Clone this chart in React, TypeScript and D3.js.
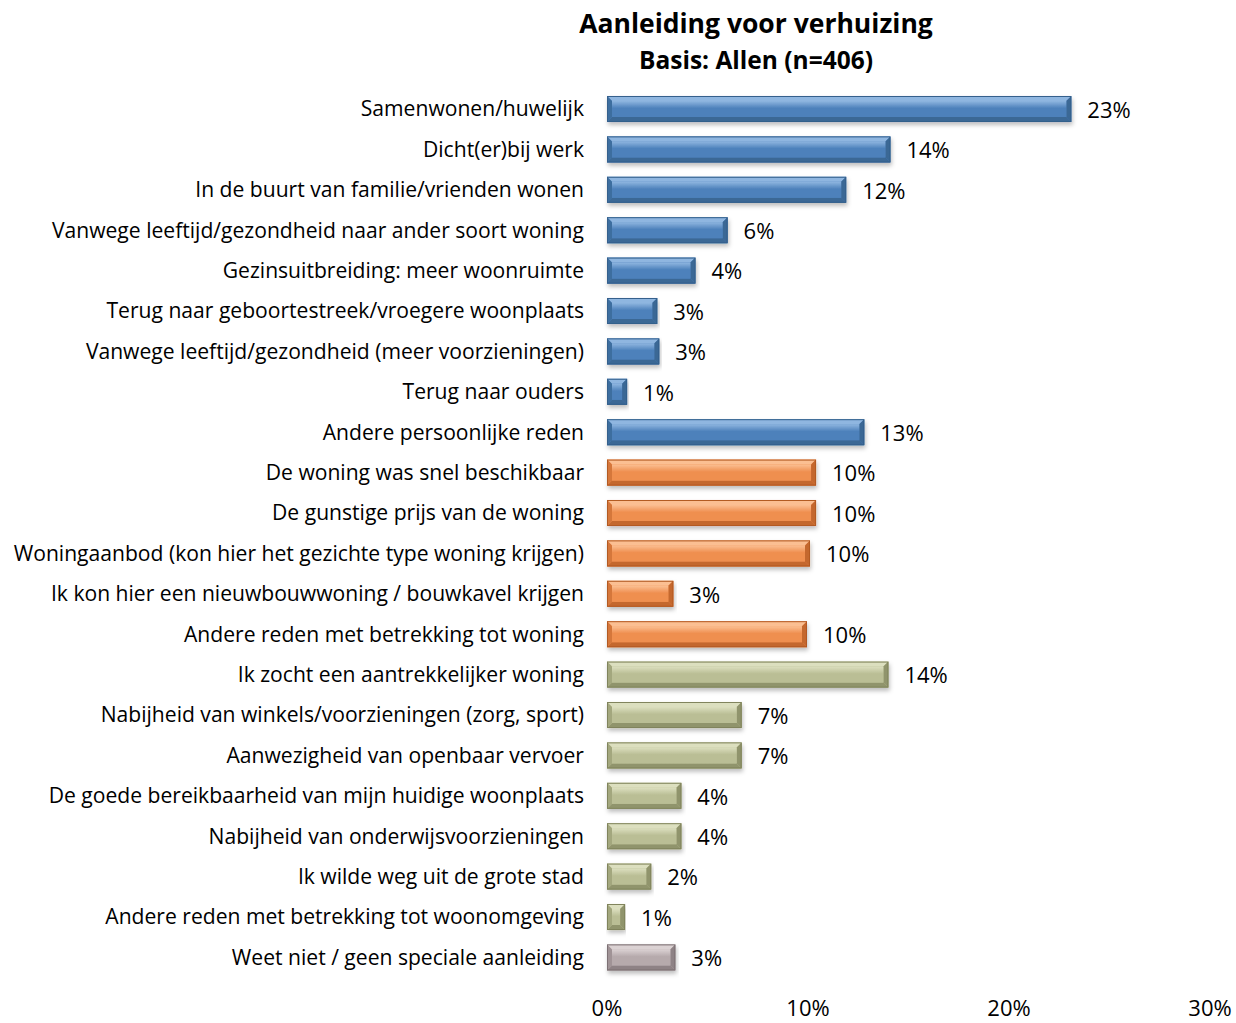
import React from "react";
import * as d3 from "d3";

const categories = [
  "Samenwonen/huwelijk",
  "Dicht(er)bij werk",
  "In de buurt van familie/vrienden wonen",
  "Vanwege leeftijd/gezondheid naar ander soort woning",
  "Gezinsuitbreiding: meer woonruimte",
  "Terug naar geboortestreek/vroegere woonplaats",
  "Vanwege leeftijd/gezondheid (meer voorzieningen)",
  "Terug naar ouders",
  "Andere persoonlijke reden",
  "De woning was snel beschikbaar",
  "De gunstige prijs van de woning",
  "Woningaanbod (kon hier het gezichte type woning krijgen)",
  "Ik kon hier een nieuwbouwwoning / bouwkavel krijgen",
  "Andere reden met betrekking tot woning",
  "Ik zocht een aantrekkelijker woning",
  "Nabijheid van winkels/voorzieningen (zorg, sport)",
  "Aanwezigheid van openbaar vervoer",
  "De goede bereikbaarheid van mijn huidige woonplaats",
  "Nabijheid van onderwijsvoorzieningen",
  "Ik wilde weg uit de grote stad",
  "Andere reden met betrekking tot woonomgeving",
  "Weet niet / geen speciale aanleiding",
];
const values = [23.1, 14.1, 11.9, 6.0, 4.4, 2.5, 2.6, 1.0, 12.8, 10.4, 10.4, 10.1, 3.3, 9.95, 14.0, 6.7, 6.7, 3.7, 3.7, 2.2, 0.9, 3.4];
const valueLabels = ["23%", "14%", "12%", "6%", "4%", "3%", "3%", "1%", "13%", "10%", "10%", "10%", "3%", "10%", "14%", "7%", "7%", "4%", "4%", "2%", "1%", "3%"];
const groups = ["p", "p", "p", "p", "p", "p", "p", "p", "p", "w", "w", "w", "w", "w", "o", "o", "o", "o", "o", "o", "o", "n"];
const xTicks = [0, 10, 20, 30];

const palette: Record<string, { main: string; top: string; bottom: string; side: string; edge: string }> = {
  p: { main: "#4d81bb", top: "#8fb6e0", bottom: "#3b6795", side: "#3e6e9f", edge: "#34608c" },
  w: { main: "#ef8f50", top: "#fbbf92", bottom: "#c4672e", side: "#d5773b", edge: "#b35a24" },
  o: { main: "#babe95", top: "#dcdfbf", bottom: "#90946c", side: "#a3a77e", edge: "#80845c" },
  n: { main: "#b6aaac", top: "#dbd2d3", bottom: "#8e8285", side: "#a09396", edge: "#7d7174" },
};

const FONT = "'Open Sans', sans-serif";

export default function App() {
  const W = 1236, H = 1023;
  const x = d3.scaleLinear().domain([0, 30]).range([607, 1210]);
  const y = d3.scaleBand<string>().domain(categories).range([88.8, 977.6]).paddingInner(0.356).paddingOuter(0.178);
  const bh = y.bandwidth();
  const bev = 5;

  return (
    <svg width={W} height={H} style={{ position: "absolute", left: 0, top: 0, background: "#fff" }}>
      <defs>
        <filter id="sh" x="-5%" y="-30%" width="110%" height="190%">
          <feDropShadow dx="1" dy="3" stdDeviation="2" floodColor="#000" floodOpacity="0.25" />
        </filter>
        {Object.keys(palette).map((k) => (
          <linearGradient key={k} id={"g" + k} x1="0" y1="0" x2="0" y2="1">
            <stop offset="0" stopColor={palette[k].top} />
            <stop offset="0.45" stopColor={palette[k].main} />
            <stop offset="1" stopColor={palette[k].main} />
          </linearGradient>
        ))}
      </defs>
      <text x={756} y={33} textAnchor="middle" fontFamily={FONT} fontWeight="bold" fontSize={26.5} fill="#000">
        Aanleiding voor verhuizing
      </text>
      <text x={756} y={69} textAnchor="middle" fontFamily={FONT} fontWeight="bold" fontSize={24.5} fill="#000">
        Basis: Allen (n=406)
      </text>
      {categories.map((c, i) => {
        const y0 = y(c)!;
        const x0 = x(0);
        const x1 = x(values[i]);
        const w = x1 - x0;
        const b = Math.min(bev, w / 2);
        const p = palette[groups[i]];
        const cy = y0 + bh / 2;
        return (
          <g key={c}>
            <text x={584} y={cy} dy="0.35em" textAnchor="end" fontFamily={FONT} fontSize={21.1} fill="#000">
              {c}
            </text>
            <g filter="url(#sh)">
              <rect x={x0} y={y0} width={w} height={bh} fill={p.main} />
              <polygon points={`${x0},${y0} ${x1},${y0} ${x1 - b},${y0 + b} ${x0 + b},${y0 + b}`} fill={p.top} />
              <polygon points={`${x0},${y0 + bh} ${x1},${y0 + bh} ${x1 - b},${y0 + bh - b} ${x0 + b},${y0 + bh - b}`} fill={p.bottom} />
              <polygon points={`${x0},${y0} ${x0 + b},${y0 + b} ${x0 + b},${y0 + bh - b} ${x0},${y0 + bh}`} fill={p.side} />
              <polygon points={`${x1},${y0} ${x1 - b},${y0 + b} ${x1 - b},${y0 + bh - b} ${x1},${y0 + bh}`} fill={p.bottom} />
              <rect x={x0 + b} y={y0 + b} width={Math.max(0, w - 2 * b)} height={bh - 2 * b} fill={`url(#g${groups[i]})`} />
              <rect x={x0 + 0.5} y={y0 + 0.5} width={w - 1} height={bh - 1} fill="none" stroke={p.edge} strokeWidth={1} />
            </g>
            <text x={x1 + 16} y={cy + 1} dy="0.35em" fontFamily={FONT} fontSize={22} fill="#000">
              {valueLabels[i]}
            </text>
          </g>
        );
      })}
      {xTicks.map((t) => (
        <text key={t} x={x(t)} y={1016} textAnchor="middle" fontFamily={FONT} fontSize={22} fill="#000">
          {t}%
        </text>
      ))}
    </svg>
  );
}
